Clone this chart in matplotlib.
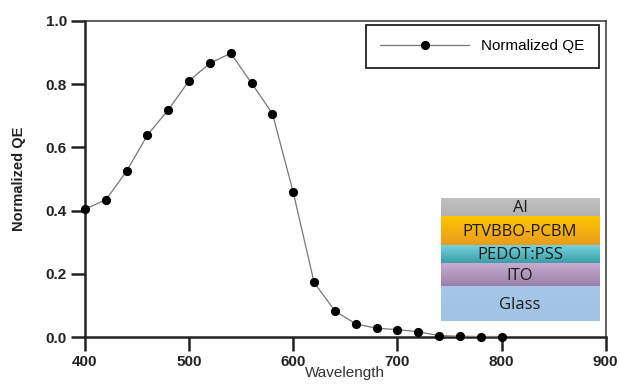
import numpy as np
import matplotlib.pyplot as plt
from matplotlib.colors import LinearSegmentedColormap

plt.rcParams['font.family'] = ['Liberation Sans', 'DejaVu Sans']

# --- data ---
wavelength = [400, 420, 440, 460, 480, 500, 520, 540, 560, 580, 600,
              620, 640, 660, 680, 700, 720, 740, 760, 780, 800]
norm_qe = [0.405, 0.434, 0.525, 0.639, 0.719, 0.811, 0.866, 0.898, 0.803, 0.707, 0.458,
           0.173, 0.083, 0.042, 0.028, 0.024, 0.017, 0.005, 0.003, 0.002, 0.002]

# device stack (bottom to top)
layers = ["Glass", "ITO", "PEDOT:PSS", "PTVBBO-PCBM", "Al"]
layer_h = [0.110, 0.073, 0.056, 0.093, 0.056]
layer_cols = [("#a6c6e8", "#a2c2e4"), ("#c9aed2", "#9a80a6"), ("#74d2de", "#3c9ea6"),
              ("#ffc600", "#e89c1c"), ("#c0c0c0", "#b2b2b2")]

fig = plt.figure(figsize=(6.2, 3.88), dpi=100)
ax = fig.add_axes([0.137, 0.131, 0.840, 0.815])

ax.plot(wavelength, norm_qe, color="#777777", lw=0.9, marker="o", ms=5.6,
        mfc="black", mec="black", clip_on=False, zorder=3, label="Normalized QE")

ax.set_xlim(400, 900)
ax.set_ylim(0, 1.0)
ax.set_xticks([400, 500, 600, 700, 800, 900])
ax.set_yticks([0.0, 0.2, 0.4, 0.6, 0.8, 1.0])
ax.yaxis.set_major_formatter(plt.FuncFormatter(lambda v, p: f"{v:.1f}"))

for s in ["left", "bottom"]:
    ax.spines[s].set_linewidth(1.8)
    ax.spines[s].set_color("#222222")
for s in ["top", "right"]:
    ax.spines[s].set_linewidth(1.1)
    ax.spines[s].set_color("#333333")
ax.tick_params(direction="out", length=10, width=1.8, color="#222222",
               labelsize=11, pad=3, top=False, right=False)
for lab in ax.get_xticklabels() + ax.get_yticklabels():
    lab.set_fontweight("bold")
    lab.set_color("#222222")

ax.set_ylabel("Normalized QE", fontsize=10.5, fontweight="bold", color="#222222", labelpad=14)
ax.set_xlabel("Wavelength", fontsize=11, color="#333333", labelpad=-2)

leg = ax.legend(loc="upper right", bbox_to_anchor=(0.987, 0.988), fontsize=11,
                handlelength=5.8, handletextpad=0.8, borderpad=0.95, borderaxespad=0,
                fancybox=False, framealpha=1, edgecolor="#222222")
leg.get_frame().set_linewidth(1.3)

# --- device stack inset ---
ins = ax.inset_axes([0.683, 0.052, 0.305, sum(layer_h)])
ins.axis("off")
y0 = 0
for name, h, (c_top, c_bot) in zip(layers, layer_h, layer_cols):
    cmap = LinearSegmentedColormap.from_list(name, [c_bot, c_top])
    grad = np.linspace(0, 1, 50).reshape(-1, 1)
    ins.imshow(grad, cmap=cmap, aspect="auto", origin="lower",
               extent=[0, 1, y0, y0 + h])
    ins.text(0.5, y0 + h / 2 - 0.004, name, ha="center", va="center",
             fontsize=12, family="Open Sans", color="#1a1a1a")
    y0 += h
ins.set_xlim(0, 1)
ins.set_ylim(0, sum(layer_h))

fig.savefig("out.png", dpi=100)
